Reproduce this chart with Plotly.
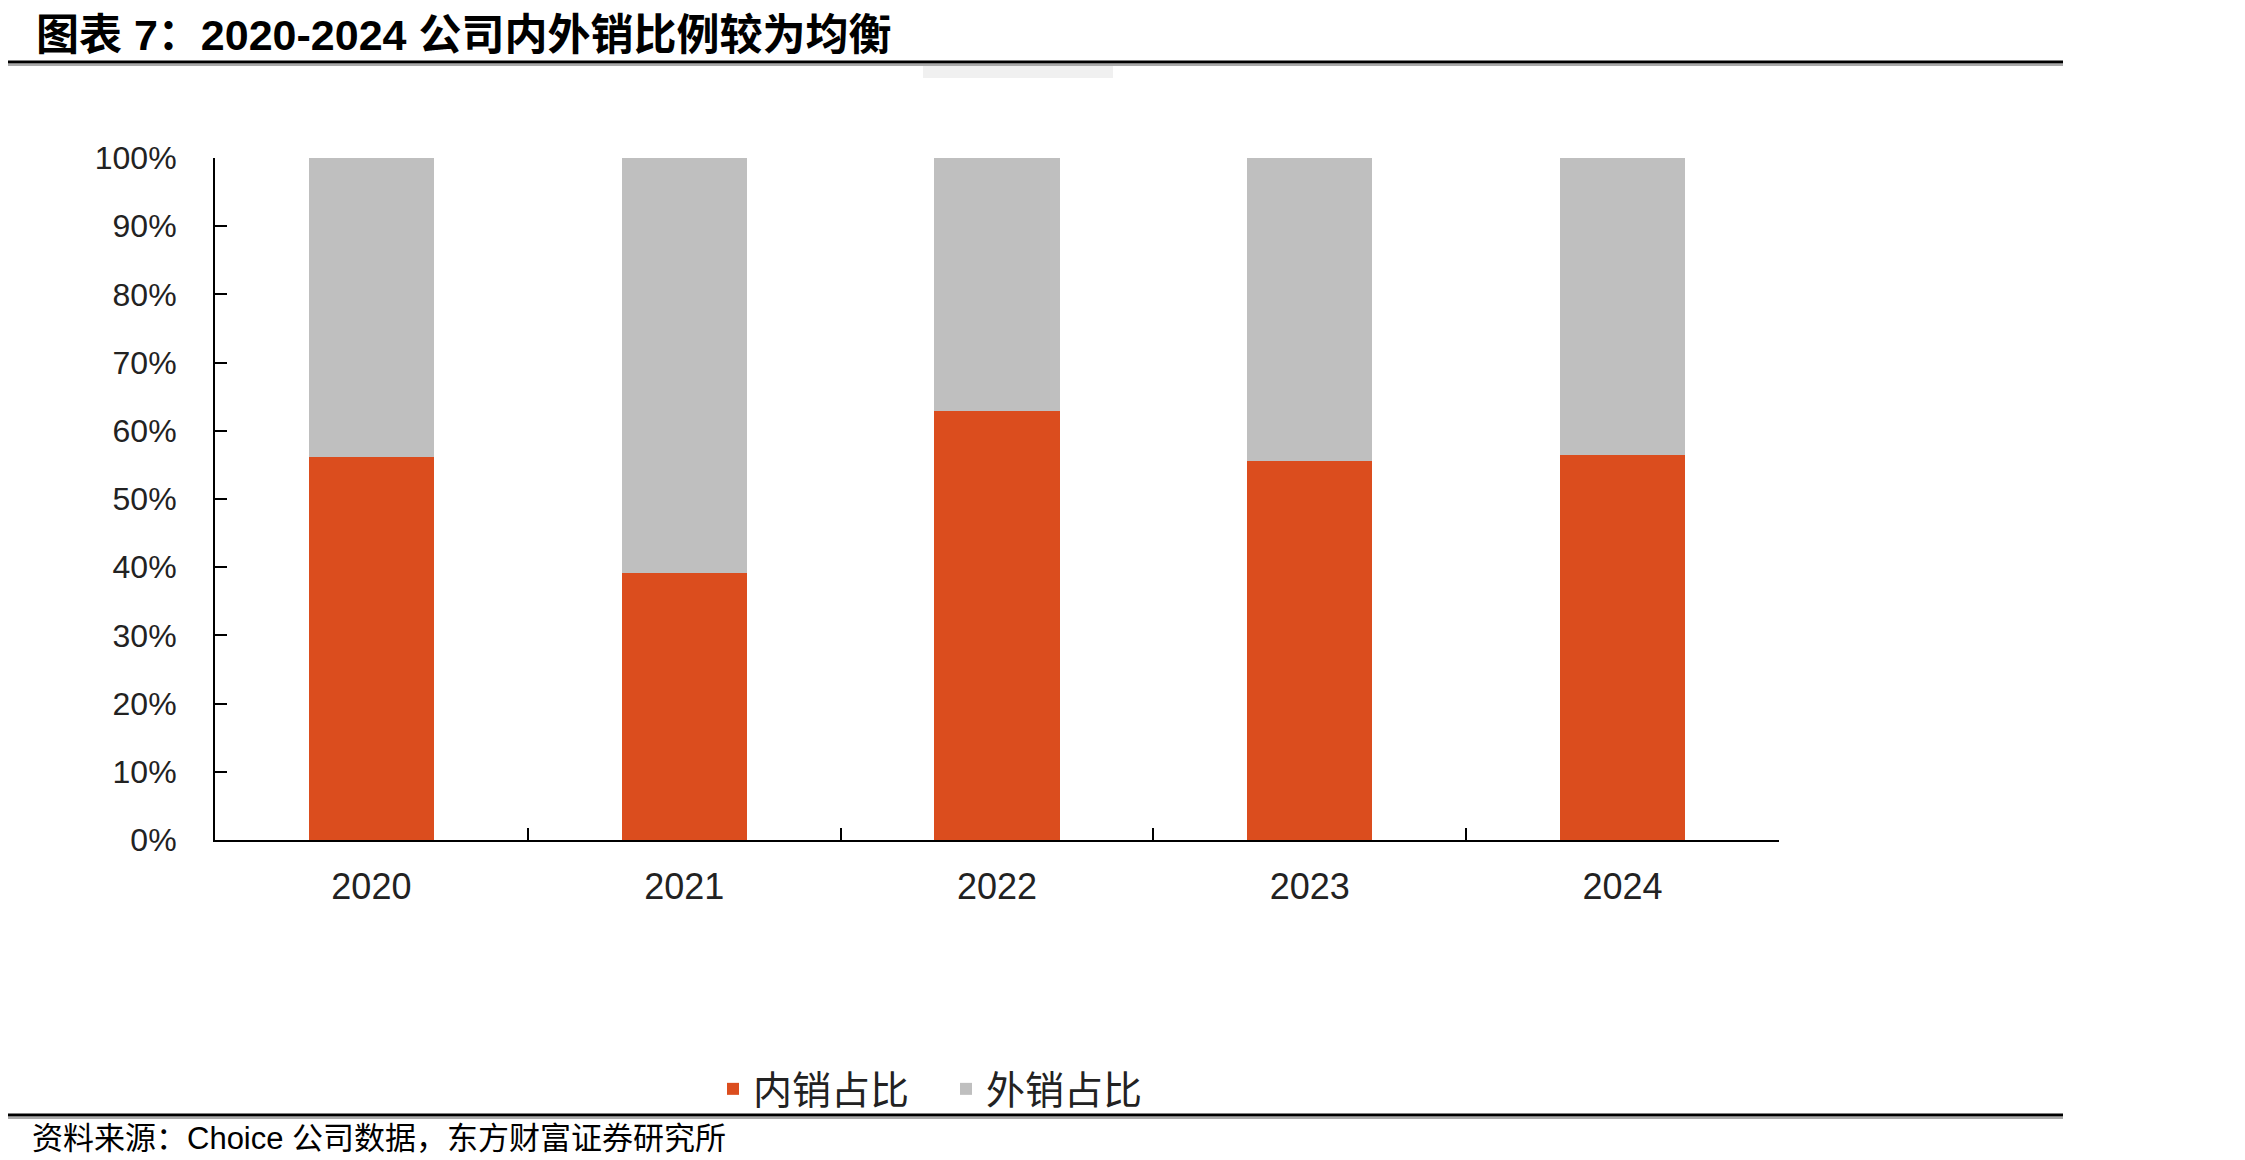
import plotly.graph_objects as go

# 数据（读图估计，单位 %）
years = ["2020", "2021", "2022", "2023", "2024"]
domestic = [56.2, 39.2, 62.9, 55.6, 56.5]   # 内销占比
overseas = [43.8, 60.8, 37.1, 44.4, 43.5]   # 外销占比

W, H = 2245, 1160
L, R, T, B = 207, 474, 150, 328
pw, ph = W - L - R, H - T - B


def px(x):
    return (x - L) / pw


def py(y):
    return (H - B - y) / ph


latin_cjk = "Liberation Sans, Arial, Noto Sans CJK SC"

fig = go.Figure()
fig.add_trace(go.Bar(x=years, y=domestic, name="内销占比",
                     marker=dict(color="#DB4D1E", line=dict(width=0)), width=0.4))
fig.add_trace(go.Bar(x=years, y=overseas, name="外销占比",
                     marker=dict(color="#BFBFBF", line=dict(width=0)), width=0.4))

fig.update_layout(
    width=W, height=H,
    margin=dict(l=L, r=R, t=T, b=B),
    barmode="stack",
    plot_bgcolor="white", paper_bgcolor="white",
    font=dict(family=latin_cjk, size=32, color="#222222"),
    showlegend=True,
    legend=dict(orientation="h", x=px(705), xanchor="left", y=py(1081), yanchor="middle",
                font=dict(family="Noto Sans CJK SC", size=39, color="#222222"),
                traceorder="normal", itemwidth=30, entrywidth=188, entrywidthmode="pixels",
                bgcolor="rgba(0,0,0,0)"),
)

fig.update_xaxes(
    showline=True, linecolor="black", linewidth=2,
    ticks="inside", tickson="boundaries", ticklen=12, tickcolor="black", tickwidth=2,
    tickfont=dict(size=36, color="#222222"), ticklabelstandoff=14,
    showgrid=False, zeroline=False,
)
fig.update_yaxes(
    range=[0, 100], dtick=10, ticksuffix="%",
    showline=True, linecolor="black", linewidth=2,
    ticks="inside", ticklen=12, tickcolor="black", tickwidth=2,
    tickfont=dict(size=32, color="#222222"), ticklabelstandoff=30,
    showgrid=False, zeroline=False,
)

# 标题与来源
fig.add_annotation(text="<b>图表 7：2020-2024 公司内外销比例较为均衡</b>",
                   xref="paper", yref="paper", x=px(26), y=py(27),
                   xanchor="left", yanchor="middle", showarrow=False,
                   font=dict(family=latin_cjk, size=43, color="black"))
fig.add_annotation(text="资料来源：Choice 公司数据，东方财富证券研究所",
                   xref="paper", yref="paper", x=px(22), y=py(1130),
                   xanchor="left", yanchor="middle", showarrow=False,
                   font=dict(family=latin_cjk, size=31, color="black"))

# 上下横线
for y0 in (54, 1107):
    fig.add_shape(type="line", xref="paper", yref="paper",
                  x0=px(0), x1=px(2055), y0=py(y0 + 3), y1=py(y0 + 3),
                  line=dict(color="#AAAAAA", width=2))
    fig.add_shape(type="line", xref="paper", yref="paper",
                  x0=px(0), x1=px(2055), y0=py(y0), y1=py(y0),
                  line=dict(color="black", width=3))

# 标题线下方的淡灰色痕迹
fig.add_shape(type="rect", xref="paper", yref="paper",
              x0=px(915), x1=px(1105), y0=py(58), y1=py(70),
              fillcolor="#F0F0F0", line=dict(width=0), layer="below")

fig.write_html("out.html")
